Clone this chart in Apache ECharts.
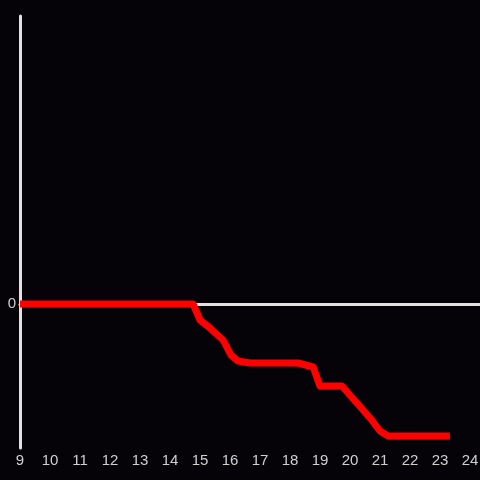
<!DOCTYPE html>
<html>
<head>
<meta charset="utf-8">
<script src="https://cdn.jsdelivr.net/npm/echarts@6/dist/echarts.min.js"></script>
<style>
html,body{margin:0;padding:0;background:#050308;}
#chart{width:480px;height:480px;}
</style>
</head>
<body>
<div id="chart"></div>
<script>
var hours = [9, 14.77, 15.0, 15.33, 15.77, 16.03, 16.27, 16.67, 18.27, 18.77, 19.0, 19.73, 20.67, 21.0, 21.27, 23.33];
var values = [0, 0, -16, -24, -36, -51, -57, -59, -59, -63, -82, -82, -114, -127, -132, -132];
var yTickLabels = ['0'];

var chart = echarts.init(document.getElementById('chart'), null, {renderer: 'canvas'});
var data = hours.map(function (h, i) { return [h, values[i]]; });
chart.setOption({
  backgroundColor: '#050308',
  animation: false,
  grid: {left: 20, right: 0, top: 16, bottom: 32, containLabel: false, outerBoundsMode: 'none'},
  xAxis: [{
    type: 'value', min: 9, max: 24.333, interval: 1,
    axisLine: {show: false, onZero: false},
    axisTick: {show: false},
    splitLine: {show: false},
    axisLabel: {
      color: '#d0d0d0', fontSize: 15, fontFamily: 'Liberation Sans', margin: 5,
      formatter: function (v) { return Math.abs(v - Math.round(v)) < 1e-6 ? String(Math.round(v)) : ''; }
    }
  }, {
    type: 'value', min: 9, max: 24.333, position: 'bottom',
    axisLine: {show: true, onZero: true, lineStyle: {color: '#e2e2e2', width: 3}},
    axisTick: {show: false}, axisLabel: {show: false}, splitLine: {show: false}
  }],
  yAxis: {
    type: 'value', min: -144, max: 288, interval: 144,
    axisLine: {show: true, lineStyle: {color: '#e2e2e2', width: 3}},
    axisTick: {show: false},
    splitLine: {show: false},
    axisLabel: {
      color: '#d0d0d0', fontSize: 15, fontFamily: 'Liberation Sans', margin: 4,
      formatter: function (v) { return v === 0 ? yTickLabels[0] : ''; }
    }
  },
  series: [{
    type: 'line',
    xAxisIndex: 0,
    data: data,
    showSymbol: false,
    lineStyle: {color: '#ff0000', width: 7, join: 'round'},
    z: 5
  }]
});
</script>
</body>
</html>
